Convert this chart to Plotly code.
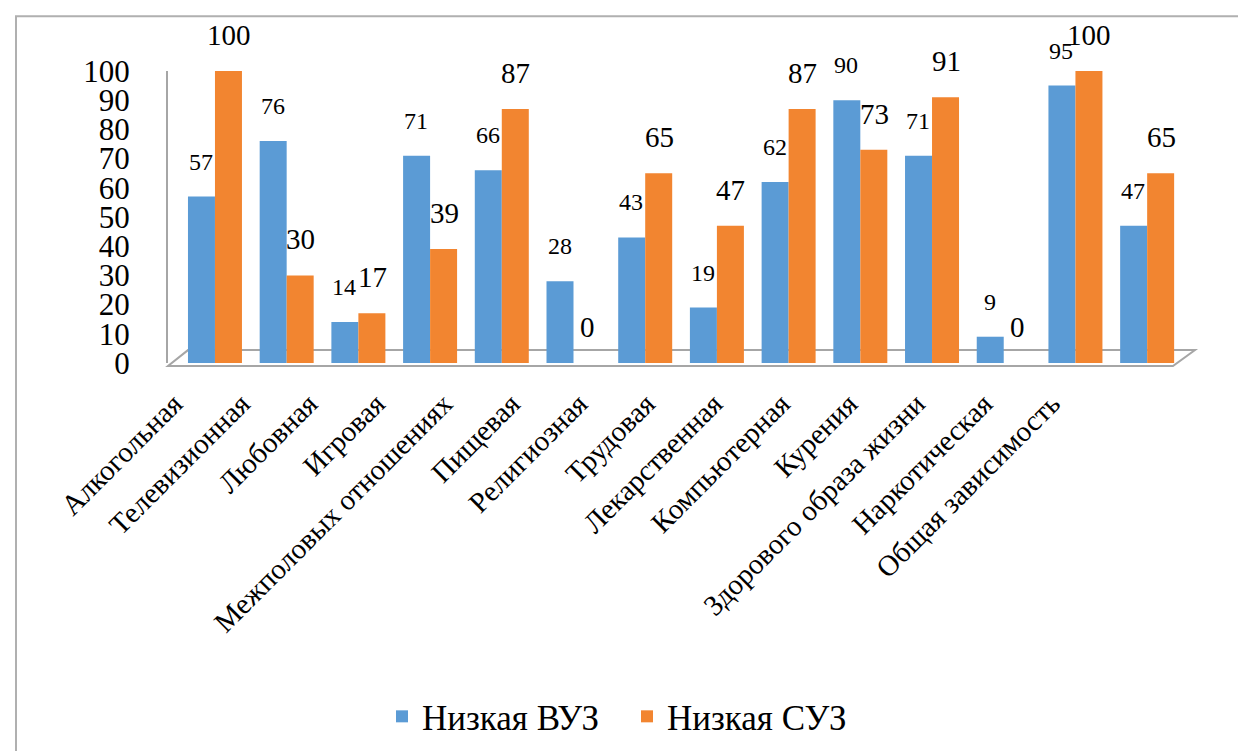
import plotly.graph_objects as go

categories = ["Алкогольная", "Телевизионная", "Любовная", "Игровая",
              "Межполовых отношениях", "Пищевая", "Религиозная", "Трудовая",
              "Лекарственная", "Компьютерная", "Курения",
              "Здорового образа жизни", "Наркотическая", "Общая зависимость"]
vuz = [57, 76, 14, 71, 66, 28, 43, 19, 62, 90, 71, 9, 95, 47]
suz = [100, 30, 17, 39, 87, 0, 65, 47, 87, 73, 91, 0, 100, 65]
y_ticks = list(range(0, 101, 10))

FONT = "Liberation Serif, Times New Roman, serif"
W, H = 1246, 751
L, T, R, B = 160, 63, 1175, 357
PW, PH = R - L, B - T
BLUE, ORANGE = "#5B9BD5", "#F28530"


def px(x):
    return (x - L) / PW


def py(y):
    return (B - y) / PH


fig = go.Figure()
fig.add_trace(go.Bar(
    x=categories, y=vuz, name="Низкая ВУЗ",
    marker=dict(color=BLUE, line=dict(width=0)), hoverinfo="x+y",
))
fig.add_trace(go.Bar(
    x=categories, y=suz, name="Низкая СУЗ",
    marker=dict(color=ORANGE, line=dict(width=0)), hoverinfo="x+y",
))
# empty helper trace so the category-label axis (x2) gets drawn
fig.add_trace(go.Scatter(
    x=list(range(len(categories))), y=[None] * len(categories),
    xaxis="x2", yaxis="y", mode="markers", showlegend=False, hoverinfo="skip",
))

annotations = []
for cat, v in zip(categories, vuz):
    annotations.append(dict(x=cat, y=v, xref="x", yref="y", text=str(v),
                            showarrow=False, xshift=-14, yshift=20,
                            yanchor="bottom",
                            font=dict(family=FONT, size=24, color="black")))
for cat, v in zip(categories, suz):
    annotations.append(dict(x=cat, y=v, xref="x", yref="y", text=str(v),
                            showarrow=False, xshift=14, yshift=18,
                            yanchor="bottom",
                            font=dict(family=FONT, size=29, color="black")))

floor = [(160, 360), (1165, 360), (1187, 344), (180, 344)]
path = "M " + " L ".join(f"{px(a):.4f},{py(b):.4f}" for a, b in floor) + " Z"

# category labels follow the perspective of the 3D floor (slightly tighter spacing)
lab_first, lab_step = 166.0, 67.5
x2_range = [(L - lab_first) / lab_step, (R - lab_first) / lab_step]

fig.update_layout(
    width=W, height=H,
    margin=dict(l=L, r=W - R, t=T, b=H - B),
    paper_bgcolor="white", plot_bgcolor="white",
    barmode="group", bargap=0.247, bargroupgap=0,
    font=dict(family=FONT, color="black"),
    showlegend=True,
    annotations=annotations,
    legend=dict(orientation="h", x=px(619), y=py(713),
                xanchor="center", yanchor="middle",
                font=dict(family=FONT, size=35, color="black"),
                itemwidth=30, entrywidth=200, traceorder="normal"),
    xaxis=dict(range=[-0.655, 13.5], showticklabels=False,
               showline=False, showgrid=False, ticks=""),
    xaxis2=dict(overlaying="x", anchor="y", side="bottom",
                range=x2_range, tickmode="array",
                tickvals=list(range(len(categories))), ticktext=categories,
                tickangle=-45,
                tickfont=dict(family=FONT, size=29, color="black"),
                showline=False, showgrid=False, zeroline=False, ticks="",
                ticklabelstandoff=17),
    yaxis=dict(range=[0, 100], tickvals=y_ticks,
               tickfont=dict(family=FONT, size=31, color="black"),
               showgrid=False, zeroline=False,
               showline=True, linecolor="#A6A6A6", linewidth=2,
               ticks="", ticklabelstandoff=30),
    shapes=[
        dict(type="path", xref="paper", yref="paper", path=path,
             line=dict(color="#A6A6A6", width=2), layer="below"),
        dict(type="rect", xref="paper", yref="paper",
             x0=px(8), y0=py(770), x1=px(1260), y1=py(8),
             line=dict(color="#B0B0B0", width=2), layer="below"),
    ],
)

fig.write_html("out.html")
